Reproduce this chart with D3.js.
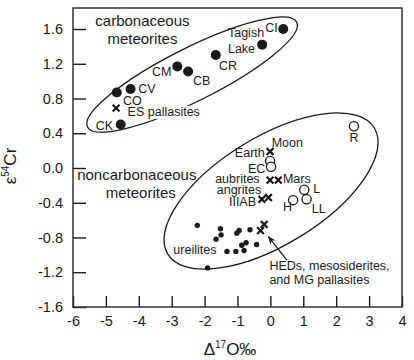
<!DOCTYPE html>
<html><head><meta charset="utf-8">
<script src="https://cdn.jsdelivr.net/npm/d3@7"></script>
<style>body{margin:0;background:#fff}svg{display:block;font-family:"Liberation Sans",Arial,sans-serif}</style>
</head><body><svg id="c" width="414" height="360"></svg>
<script>
// ---- data ----
const carbNames = ["CI","Tagish Lake","CR","CM","CB","CV","CO","CK"];
const carbX = [0.39,-0.25,-1.66,-2.83,-2.50,-4.25,-4.67,-4.55];
const carbY = [1.60,1.42,1.30,1.17,1.11,0.91,0.87,0.50];

const openNames = ["R","EC","EC","H","L","LL"];
const openX = [2.54,-0.01,0.02,0.69,1.03,1.10];
const openY = [0.48,0.08,0.015,-0.37,-0.25,-0.36];

const crossNames = ["ES pallasites","Earth/Moon","aubrites","Mars","angrites","IIIAB","HED","HED"];
const crossX = [-4.69,-0.01,-0.01,0.24,-0.26,-0.06,-0.19,-0.30];
const crossY = [0.69,0.19,-0.14,-0.14,-0.36,-0.34,-0.65,-0.72];

const ureiliteX = [-2.22,-1.52,-1.50,-1.65,-1.02,-0.95,-0.62,-0.74,-0.87,-0.42,-1.32,-1.05,-0.80,-1.91];
const ureiliteY = [-0.66,-0.70,-0.77,-0.82,-0.75,-0.72,-0.71,-0.86,-0.89,-0.88,-0.96,-0.96,-0.95,-1.15];

const xTicks = [-6,-5,-4,-3,-2,-1,0,1,2,3,4];
const yTicks = [-1.6,-1.2,-0.8,-0.4,0.0,0.4,0.8,1.2,1.6];

// ---- layout ----
const svg = d3.select("#c");
const L = 73, R = 402, T = 8, B = 307;
const x = d3.scaleLinear().domain([-6,4]).range([L,R]);
const y = d3.scaleLinear().domain([-1.6,1.842]).range([B,T]);
const ink = "#1a1a1a";

// axes
const gy = svg.append("g").attr("transform",`translate(${L},0)`)
  .call(d3.axisLeft(y).tickValues(yTicks).tickSizeInner(-13).tickSizeOuter(0).tickPadding(10).tickFormat(d3.format(".1f")));
const gx = svg.append("g").attr("transform",`translate(0,${B})`)
  .call(d3.axisBottom(x).tickValues(xTicks).tickSizeInner(-11).tickSizeOuter(0).tickPadding(9).tickFormat(d=>d3.format("d")(d).replace("−","-")));
gy.selectAll("text").text(d=>d3.format(".1f")(d).replace("−","-"));
[gx,gy].forEach(g=>{
  g.select(".domain").remove();
  g.selectAll("line").attr("stroke",ink).attr("stroke-width",1.4);
  g.selectAll("text").attr("fill",ink).attr("font-size",14.5);
});
svg.append("rect").attr("x",L).attr("y",T).attr("width",R-L).attr("height",B-T)
  .attr("fill","none").attr("stroke","#333").attr("stroke-width",1.5);

// axis titles
const yt = svg.append("text").attr("transform","translate(16,166) rotate(-90)").attr("text-anchor","middle")
  .attr("font-size",17).attr("fill",ink);
yt.append("tspan").text("ε");
yt.append("tspan").attr("font-size",10).attr("dy",-7).text("54");
yt.append("tspan").attr("dy",7).text("Cr");
const xt = svg.append("text").attr("x",230).attr("y",355).attr("text-anchor","middle").attr("font-size",17).attr("fill",ink);
xt.append("tspan").text("Δ");
xt.append("tspan").attr("font-size",10).attr("dy",-7).text("17");
xt.append("tspan").attr("dy",7).text("O‰");

// ellipses (center in data units, radii in px, angle in degrees)
const ellipses = [
  {cx:-2.38, cy:1.076, rx:117, ry:26.5, a:-26.6},
  {cx:0.02, cy:-0.265, rx:121, ry:54, a:-31.4}
];
ellipses.forEach(e=>{
  svg.append("ellipse").attr("cx",0).attr("cy",0).attr("rx",e.rx).attr("ry",e.ry)
    .attr("transform",`translate(${x(e.cx)},${y(e.cy)}) rotate(${e.a})`)
    .attr("fill","none").attr("stroke",ink).attr("stroke-width",1.3);
});

// ureilites (small dots)
svg.append("g").selectAll("circle").data(ureiliteX).join("circle")
  .attr("cx",(d)=>x(d)).attr("cy",(d,i)=>y(ureiliteY[i])).attr("r",2.7).attr("fill",ink);

// carbonaceous filled
svg.append("g").selectAll("circle").data(carbX).join("circle")
  .attr("cx",d=>x(d)).attr("cy",(d,i)=>y(carbY[i])).attr("r",5).attr("fill",ink);

// open circles
svg.append("g").selectAll("circle").data(openX).join("circle")
  .attr("cx",d=>x(d)).attr("cy",(d,i)=>y(openY[i])).attr("r",4.6).attr("fill","#fff")
  .attr("stroke",ink).attr("stroke-width",1.3);

// labels
const labels = [
  {t:"carbonaceous",x:-3.89,y:1.635,s:15,a:"middle"},
  {t:"meteorites",x:-3.89,y:1.433,s:15,a:"middle"},
  {t:"noncarbonaceous",x:-4.06,y:-0.138,s:15,a:"middle"},
  {t:"meteorites",x:-3.94,y:-0.349,s:15,a:"middle"},
  {t:"CI",x:-0.16,y:1.565},{t:"Tagish",x:-1.29,y:1.508},{t:"Lake",x:-1.29,y:1.324},
  {t:"CR",x:-1.56,y:1.128},{t:"CB",x:-2.35,y:0.955},{t:"CM",x:-3.6,y:1.059},
  {t:"CV",x:-4.02,y:0.863},{t:"CO",x:-4.48,y:0.725},
  {t:"ES pallasites",x:-4.34,y:0.60,bg:true},
  {t:"CK",x:-5.31,y:0.437},
  {t:"R",x:2.54,y:0.303,a:"middle"},{t:"Moon",x:0.04,y:0.245},{t:"Earth",x:-1.08,y:0.13},
  {t:"EC",x:-0.68,y:-0.061},{t:"aubrites",x:-1.68,y:-0.176},{t:"Mars",x:0.38,y:-0.176},
  {t:"angrites",x:-1.63,y:-0.303},{t:"IIIAB",x:-1.26,y:-0.434},{t:"H",x:0.38,y:-0.492},
  {t:"L",x:1.30,y:-0.291},{t:"LL",x:1.26,y:-0.521},{t:"ureilites",x:-2.95,y:-0.99},
  {t:"HEDs, mesosiderites,",x:-0.03,y:-1.174},{t:"and MG pallasites",x:-0.03,y:-1.335}
];
labels.forEach(l=>{
  const tx = svg.append("text").attr("x",x(l.x)).attr("y",y(l.y)).attr("font-size",l.s||12.5)
    .attr("text-anchor",l.a||"start").attr("fill",ink).text(l.t);
  if(l.bg){
    const b = tx.node().getBBox();
    svg.insert("rect",()=>tx.node()).attr("x",b.x-1).attr("y",b.y+1).attr("width",b.width+2).attr("height",b.height-1).attr("fill","#fff");
  }
});

// crosses
svg.append("g").selectAll("path").data(crossX).join("path")
  .attr("d",(d,i)=>{const cx=x(d),cy=y(crossY[i]),h=3.4;return `M${cx-h},${cy-h}L${cx+h},${cy+h}M${cx-h},${cy+h}L${cx+h},${cy-h}`;})
  .attr("stroke",ink).attr("stroke-width",2.2).attr("fill","none");

// arrow
svg.append("defs").append("marker").attr("id","ah").attr("viewBox","0 0 10 10").attr("refX",9).attr("refY",5)
  .attr("markerWidth",7).attr("markerHeight",7).attr("orient","auto")
  .append("path").attr("d","M0,1 L10,5 L0,9 L3,5Z").attr("fill",ink);
svg.append("line").attr("x1",x(0.50)).attr("y1",y(-1.06)).attr("x2",x(-0.06)).attr("y2",y(-0.79))
  .attr("stroke",ink).attr("stroke-width",1.2).attr("marker-end","url(#ah)");
</script></body></html>
